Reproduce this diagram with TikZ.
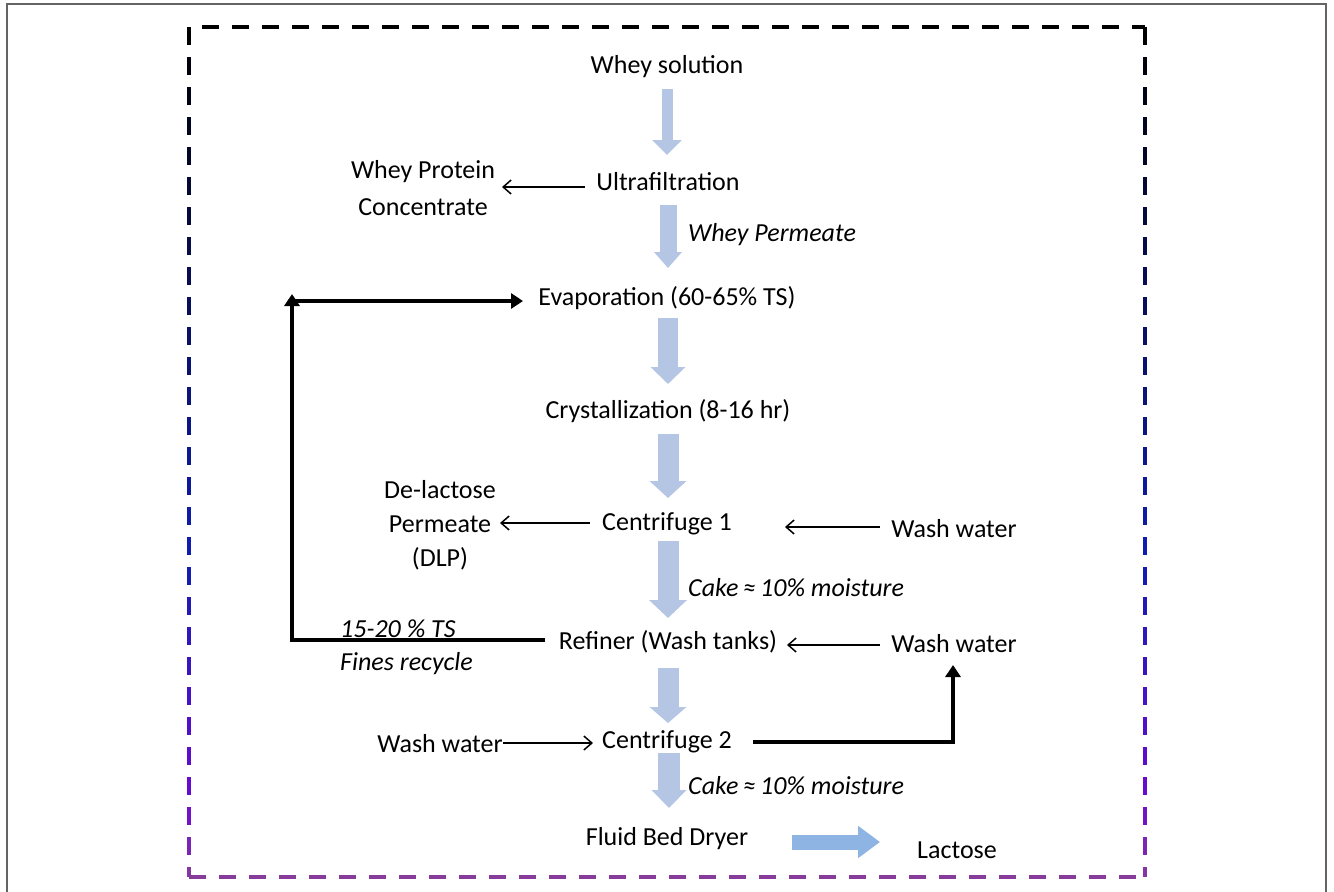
\documentclass[tikz,border=0pt]{standalone}
\usepackage{fontspec}
\setmainfont{Carlito}
\usetikzlibrary{arrows.meta}
\definecolor{blkc}{RGB}{180,198,228}
\definecolor{outc}{RGB}{142,180,227}
\definecolor{purp}{RGB}{135,60,155}
\definecolor{framec}{RGB}{100,100,100}
\begin{document}
\begin{tikzpicture}[x=1pt,y=-1pt,
  lbl/.style={font=\fontsize{26}{34}\selectfont, inner sep=0pt, align=center},
  ilbl/.style={font=\fontsize{26}{34}\selectfont\itshape, inner sep=0pt, anchor=west},
  blkarrow/.style n args={3}{line width=#1, draw=blkc, -{Triangle[width=#2,length=#3]}},
  thin/.style={line width=1.5pt, -{Straight Barb[length=8pt,width=14pt]}},
  thick/.style={line width=3.4pt, -{Triangle[length=12pt,width=15pt]}},
  dashside/.style={line width=3.5pt}]
\useasboundingbox (0,0) rectangle (1334,892);
% outer frame
\draw[framec, line width=1.5pt] (7,892) -- (7,4) -- (1326,4) -- (1326,892);
% dashed frame
\draw[black, dashside, dash pattern=on 17pt off 13pt] (202,27) -- (1145,27);
\draw[purp, dashside, dash pattern=on 17pt off 13pt] (189,877) -- (1145,877);
\foreach \yy in {27,57,...,867}{
  \pgfmathsetmacro\ta{min(max((\yy-27)/523,0),1)}
  \pgfmathsetmacro\tb{min(max((\yy-550)/240,0),1)}
  \pgfmathsetmacro\tc{min(max((\yy-790)/87,0),1)}
  \pgfmathsetmacro\rr{int(15*\ta+95*\tb+25*\tc)}
  \pgfmathsetmacro\gg{int(max(30*\ta-20*\tb+50*\tc,0))}
  \pgfmathsetmacro\bb{int(180*\ta+30*\tb-55*\tc)}
  \pgfmathsetmacro\ye{min(\yy+18,877)}
  \definecolor{dc}{RGB}{\rr,\gg,\bb}
  \draw[dc, dashside] (189,\yy) -- (189,\ye);
  \draw[dc, dashside] (1145,\yy) -- (1145,\ye);
}
% nodes
\node[lbl] (ws) at (667,67) {Whey solution};
\node[lbl] (uf) at (668,182) {Ultrafiltration};
\node[lbl] (wpc) at (423,188) {Whey Protein\\[3pt]Concentrate};
\node[ilbl] (wp) at (688,235) {Whey Permeate};
\node[lbl] (ev) at (667,298) {Evaporation (60-65\% TS)};
\node[lbl] (cr) at (668,411) {Crystallization (8-16 hr)};
\node[lbl] (dlp) at (440,525) {De-lactose\\Permeate\\(DLP)};
\node[lbl] (c1) at (667,524) {Centrifuge 1};
\node[lbl] (ww1) at (954,529) {Wash water};
\node[ilbl] (cake1) at (688,588) {Cake\,≈\,10\% moisture};
\node[lbl] (rf) at (668,642) {Refiner (Wash tanks)};
\node[lbl] (ww2) at (954,644) {Wash water};
\node[ilbl] (ts) at (340,629) {15-20 \% TS};
\node[ilbl] (fr) at (340,664) {Fines recycle};
\node[lbl] (ww3) at (440,744) {Wash water};
\node[lbl] (c2) at (667,742) {Centrifuge 2};
\node[ilbl] (cake2) at (688,786) {Cake\,≈\,10\% moisture};
\node[lbl] (fbd) at (667,839) {Fluid Bed Dryer};
\node[lbl] (lac) at (957,850) {Lactose};
% block arrow end points
\coordinate (a1s) at (667,89);  \coordinate (a1e) at (667,155);
\coordinate (a2s) at (668,205); \coordinate (a2e) at (668,268);
\coordinate (a3s) at (668,318); \coordinate (a3e) at (668,384);
\coordinate (a4s) at (668,434); \coordinate (a4e) at (668,498);
\coordinate (a5s) at (668,541); \coordinate (a5e) at (668,618);
\coordinate (a6s) at (668,668); \coordinate (a6e) at (668,723);
\coordinate (a7s) at (669,753); \coordinate (a7e) at (669,808);
\coordinate (a8s) at (792,842); \coordinate (a8e) at (880,842);
\draw[blkarrow={11pt}{29pt}{15pt}] (a1s) -- (a1e);
\draw[blkarrow={17pt}{27pt}{16pt}] (a2s) -- (a2e);
\draw[blkarrow={20pt}{34pt}{17pt}] (a3s) -- (a3e);
\draw[blkarrow={21pt}{36pt}{17pt}] (a4s) -- (a4e);
\draw[blkarrow={21pt}{37pt}{18pt}] (a5s) -- (a5e);
\draw[blkarrow={21pt}{36pt}{16pt}] (a6s) -- (a6e);
\draw[blkarrow={22pt}{34pt}{18pt}] (a7s) -- (a7e);
\draw[line width=15pt, draw=outc, -{Triangle[width=31pt,length=22pt]}] (a8s) -- (a8e);
% thin arrows
\coordinate (t1s) at (585,187); \coordinate (t1e) at (502,187);
\draw[thin] (t1s) -- (t1e);
\coordinate (t2s) at (590,523); \coordinate (t2e) at (500,523);
\draw[thin] (t2s) -- (t2e);
\coordinate (t3s) at (880,527); \coordinate (t3e) at (785,527);
\draw[thin] (t3s) -- (t3e);
\coordinate (t4s) at (880,645); \coordinate (t4e) at (787,645);
\draw[thin] (t4s) -- (t4e);
\coordinate (t5s) at (503,743); \coordinate (t5e) at (593,743);
\draw[thin] (t5s) -- (t5e);
% thick recycle arrows
\coordinate (r1s) at (545,640); \coordinate (r1c) at (292,294); \coordinate (r1e) at (523,301);
\draw[thick] (r1s) -| (r1c);
\draw[thick] (292,301) -- (r1e);
\coordinate (r2s) at (753,742); \coordinate (r2e) at (953,665);
\draw[thick] (r2s) -| (r2e);
\end{tikzpicture}
\end{document}
